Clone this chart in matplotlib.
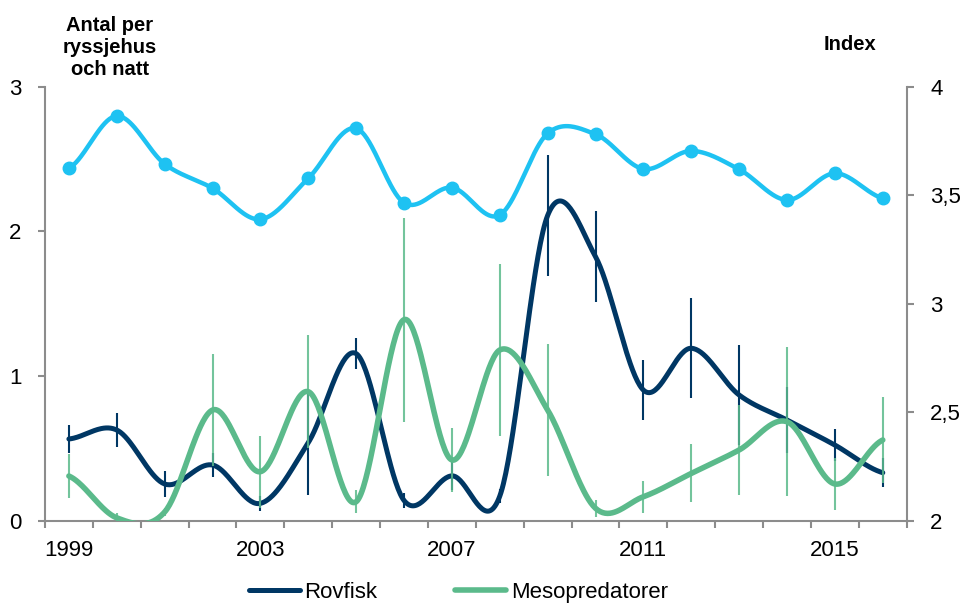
import matplotlib.pyplot as plt
import numpy as np

# Datos (un valor por año)
anios = np.arange(1999, 2017)
rovfisk = [0.565, 0.627, 0.254, 0.385, 0.12, 0.54, 1.155, 0.14, 0.31, 0.17,
           2.11, 1.825, 0.903, 1.192, 0.869, 0.696, 0.523, 0.332]
rovfisk_err = [0.097, 0.12, 0.088, 0.08, 0.05, 0.36, 0.106, 0.05, 0.1, 0.05,
               0.417, 0.315, 0.205, 0.346, 0.345, 0.225, 0.11, 0.1]
meso = [0.309, 0.02, 0.06, 0.765, 0.339, 0.892, 0.131, 1.39, 0.42, 1.18,
        0.765, 0.086, 0.166, 0.327, 0.489, 0.684, 0.254, 0.558]
meso_err = [0.155, 0.03, 0.03, 0.39, 0.25, 0.39, 0.08, 0.705, 0.22, 0.595,
            0.454, 0.06, 0.11, 0.2, 0.31, 0.515, 0.18, 0.3]
indice = [3.624, 3.865, 3.644, 3.532, 3.389, 3.578, 3.808, 3.465, 3.535, 3.409,
          3.785, 3.781, 3.621, 3.704, 3.619, 3.478, 3.601, 3.486]
etiquetas_x = [1999, 2003, 2007, 2011, 2015]

AZUL_OSCURO = '#003764'
VERDE = '#5BBA8B'
CELESTE = '#1EC2F2'
GRIS = '#8C8C8C'

plt.rcParams['font.family'] = ['Liberation Sans', 'DejaVu Sans']


def suavizar(x, y, pasos=40):
    """Curva suavizada tipo Catmull-Rom (como 'línea suavizada' de Excel)."""
    x = np.asarray(x, dtype=float)
    y = np.asarray(y, dtype=float)
    yp = np.concatenate([[y[0]], y, [y[-1]]])
    xs, ys = [], []
    for i in range(len(y) - 1):
        p0, p1, p2, p3 = yp[i], yp[i + 1], yp[i + 2], yp[i + 3]
        m1 = (p2 - p0) / 2
        m2 = (p3 - p1) / 2
        t = np.linspace(0, 1, pasos, endpoint=False)
        h00 = 2 * t**3 - 3 * t**2 + 1
        h10 = t**3 - 2 * t**2 + t
        h01 = -2 * t**3 + 3 * t**2
        h11 = t**3 - t**2
        xs.append(x[i] + t * (x[i + 1] - x[i]))
        ys.append(h00 * p1 + h10 * m1 + h01 * p2 + h11 * m2)
    xs.append([x[-1]])
    ys.append([y[-1]])
    return np.concatenate(xs), np.concatenate(ys)


fig, ax = plt.subplots(figsize=(9.71, 6.05), dpi=100)
fig.subplots_adjust(left=0.0463, right=0.9338, bottom=0.1393, top=0.8567)

# Serie Rovfisk
xs, ys = suavizar(anios, rovfisk)
ax.plot(xs, ys, color=AZUL_OSCURO, lw=3.6, solid_capstyle='round', zorder=3, label='Rovfisk')
ax.errorbar(anios, rovfisk, yerr=rovfisk_err, fmt='none', ecolor=AZUL_OSCURO,
            elinewidth=1.5, capsize=0, zorder=3)

# Serie Mesopredatorer
xs, ys = suavizar(anios, meso)
ax.plot(xs, ys, color=VERDE, lw=4.0, solid_capstyle='round', zorder=4, label='Mesopredatorer')
ax.errorbar(anios, meso, yerr=meso_err, fmt='none', ecolor=VERDE, alpha=0.85,
            elinewidth=1.5, capsize=0, zorder=4)

ax.set_xlim(1998.5, 2016.5)
ax.set_ylim(0, 3)
ax.set_yticks([0, 1, 2, 3])

# Marcas del eje X entre categorías, etiquetas cada 4 años
ax.set_xticks(np.arange(1998.5, 2017, 1))
ax.set_xticklabels([])
ax.set_xticks(etiquetas_x, minor=True)
ax.set_xticklabels([str(a) for a in etiquetas_x], minor=True)
ax.tick_params(axis='x', which='major', length=5, width=1.5, color=GRIS)
ax.tick_params(axis='x', which='minor', length=0, pad=14, labelsize=16)
ax.tick_params(axis='y', length=5, width=1.5, color=GRIS, pad=12, labelsize=16)

for lado in ['left', 'bottom']:
    ax.spines[lado].set_color(GRIS)
    ax.spines[lado].set_linewidth(1.5)
ax.spines['top'].set_visible(False)
ax.spines['right'].set_visible(False)

# Eje secundario: índice
ax2 = ax.twinx()
xs, ys = suavizar(anios, indice)
ax2.plot(xs, ys, color=CELESTE, lw=3.2, zorder=5)
ax2.plot(anios, indice, 'o', color=CELESTE, ms=9, zorder=6)
ax2.set_ylim(2, 4)
ax2.set_yticks([2, 2.5, 3, 3.5, 4])
ax2.set_yticklabels(['2', '2,5', '3', '3,5', '4'])
ax2.tick_params(axis='y', length=5, width=1.5, color=GRIS, pad=12, labelsize=16)
ax2.spines['right'].set_color(GRIS)
ax2.spines['right'].set_linewidth(1.5)
for lado in ['left', 'top', 'bottom']:
    ax2.spines[lado].set_visible(False)

# Títulos de los ejes
fig.text(0.113, 0.922, 'Antal per\nryssjehus\noch natt', ha='center', va='center',
         fontsize=14.5, fontweight='bold', linespacing=1.2)
fig.text(0.875, 0.927, 'Index', ha='center', va='center', fontsize=14.5, fontweight='bold')

fig.legend(loc='lower center', bbox_to_anchor=(0.472, -0.03), ncol=2, frameon=False,
           fontsize=16, handlelength=2.3, handletextpad=0.2, columnspacing=3.5)

plt.savefig('out.png', dpi=100)
